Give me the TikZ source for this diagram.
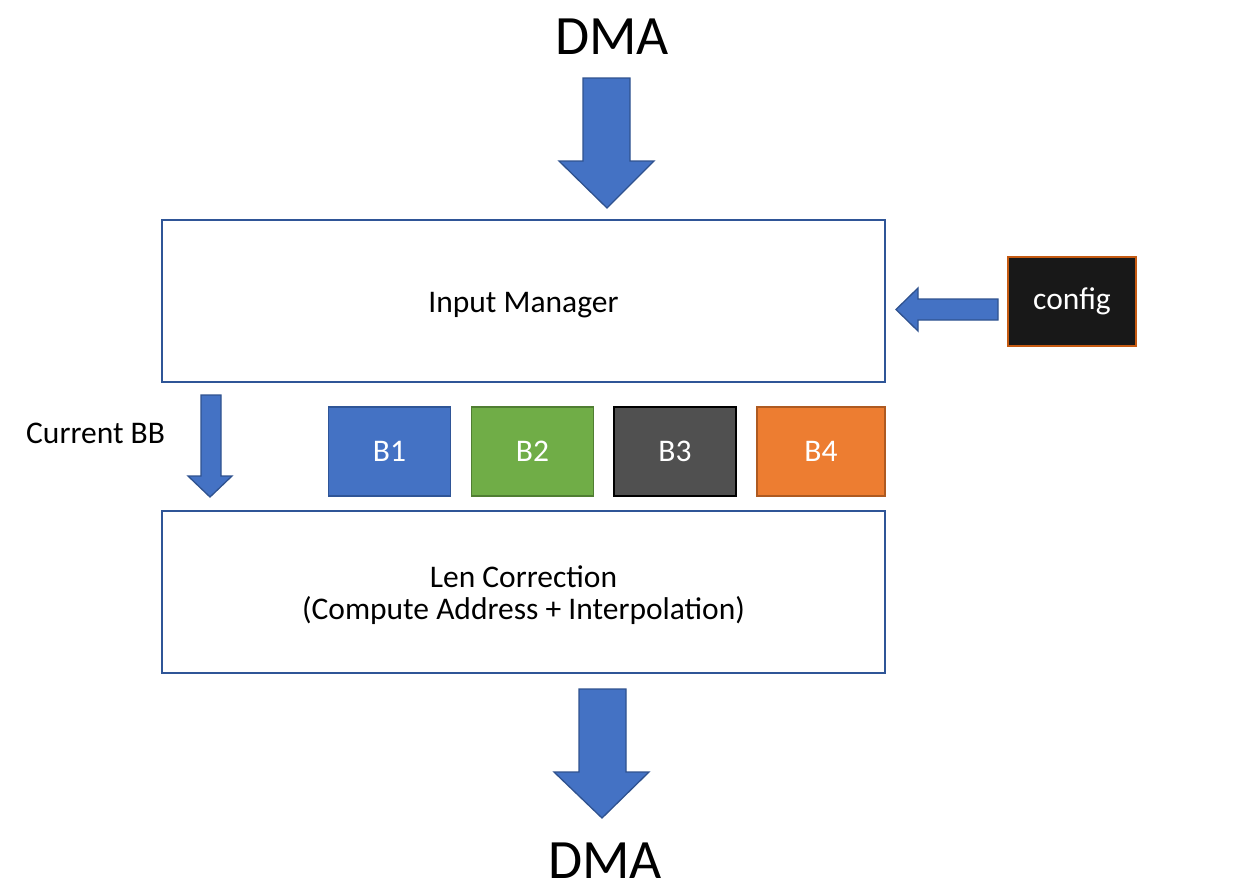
\documentclass[tikz,border=0pt]{standalone}
\usepackage{fontspec}
\setmainfont{Carlito}
\definecolor{arrowblue}{HTML}{4472C4}
\definecolor{arrowedge}{HTML}{2F528F}
\definecolor{boxedge}{HTML}{2F5597}
\definecolor{bgreen}{HTML}{70AD47}
\definecolor{bgreenedge}{HTML}{507E32}
\definecolor{bgray}{HTML}{505050}
\definecolor{borange}{HTML}{ED7D31}
\definecolor{borangeedge}{HTML}{AE5A21}
\definecolor{cfgfill}{HTML}{181818}
\definecolor{cfgedge}{HTML}{C55A11}
\begin{document}
\begin{tikzpicture}[x=1pt,y=-1pt,
  bigbox/.style={draw=boxedge,line width=1.4pt,fill=white,minimum width=723pt,minimum height=162pt,inner sep=0pt,font=\fontsize{31.5}{36}\selectfont,align=center},
  regbox/.style={line width=1.4pt,minimum width=122pt,minimum height=89pt,inner sep=0pt,text=white,font=\fontsize{31.5}{36}\selectfont},
  blockarrow/.style={draw=arrowedge,fill=arrowblue,line width=1.3pt,line join=miter},
  lbl/.style={inner sep=0pt,font=\fontsize{31.5}{36}\selectfont},
  biglbl/.style={inner sep=0pt,anchor=base,font=\fontsize{55.5}{66}\selectfont}]
\useasboundingbox (0,0) rectangle (1260,895);

% texts DMA
\node[biglbl] (dmatop) at (612,54) {DMA};
\node[biglbl] (dmabot) at (605,878) {DMA};

% main boxes
\node[bigbox] (im) at (523.5,301) {};
\node[lbl,anchor=base] (imt) at (523.5,312) {Input Manager};
\node[bigbox] (lc) at (523.5,592) {};
\node[lbl,anchor=base] (lct1) at (523.5,587) {Len Correction};
\node[lbl,anchor=base] (lct2) at (523.5,619) {(Compute Address + Interpolation)};

% config
\node[draw=cfgedge,fill=cfgfill,line width=1.4pt,minimum width=128pt,minimum height=89pt,inner sep=0pt,text=white,font=\fontsize{31.5}{36}\selectfont] (cfg) at (1072,301.5) {config};

% registers
\node[regbox,draw=boxedge,fill=arrowblue] (b1) at (389.5,451.5) {B1};
\node[regbox,draw=bgreenedge,fill=bgreen] (b2) at (532.5,451.5) {B2};
\node[regbox,draw=black,fill=bgray] (b3) at (675,451.5) {B3};
\node[regbox,draw=borangeedge,fill=borange,minimum width=128pt] (b4) at (821,451.5) {B4};

% current BB label
\node[lbl,anchor=base west] (cbb) at (26,443) {Current BB};

% top block arrow
\draw[blockarrow] (583,78) -- (630,78) -- (630,161) -- (654,161) -- (607,208) -- (559,161) -- (583,161) -- cycle;
% bottom block arrow
\draw[blockarrow] (579,689) -- (626,689) -- (626,772) -- (649,772) -- (602,818) -- (554,772) -- (579,772) -- cycle;
% config arrow
\draw[blockarrow] (998,299) -- (918,299) -- (918,288) -- (896,309.5) -- (918,331) -- (918,320) -- (998,320) -- cycle;
% current BB arrow
\draw[blockarrow] (201,395) -- (221,395) -- (221,476) -- (232,476) -- (210,497) -- (188,476) -- (201,476) -- cycle;
\end{tikzpicture}
\end{document}
